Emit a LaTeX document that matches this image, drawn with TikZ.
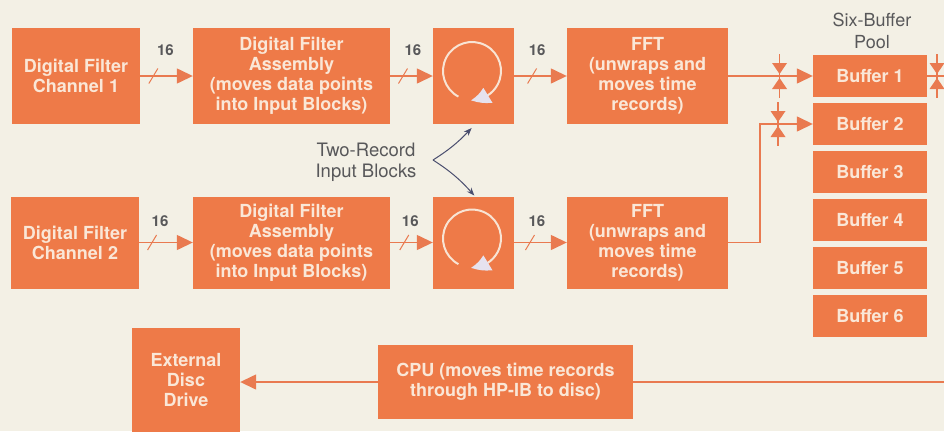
\documentclass[tikz,border=0pt]{standalone}
\usepackage{fontspec}
\setmainfont{TeX Gyre Heros}
\usetikzlibrary{arrows.meta,decorations.markings,bending}
\definecolor{bgc}{HTML}{F3F0E5}
\definecolor{boxor}{HTML}{EE7A48}
\definecolor{boxtxt}{HTML}{FAE7D7}
\definecolor{lineor}{HTML}{E97A50}
\definecolor{graytxt}{HTML}{58585A}
\definecolor{ptrc}{HTML}{4A4E6E}
\definecolor{arcc}{HTML}{F8E4D4}
\definecolor{tipc}{HTML}{E6E2EE}
\begin{document}
\begin{tikzpicture}[x=1pt,y=-1pt,
  box/.style={fill=boxor, text=boxtxt, font=\bfseries\fontsize{18}{20}\selectfont, align=center, inner sep=0pt},
  graylbl/.style={text=graytxt, align=center, inner sep=0pt},
  num/.style={text=graytxt, font=\bfseries\fontsize{15}{15}\selectfont, inner sep=0pt},
  flow/.style={draw=lineor, line width=1.4pt},
  arr/.style={-{Triangle[length=16pt,width=15pt]}},
  ptr/.style={draw=ptrc, line width=1pt, -{Stealth[length=8pt,width=6pt]}},
  arcst/.style={draw=arcc, line width=2pt, -{Triangle[length=18pt,width=17pt,color=tipc,bend]}},
  bus/.style n args={3}{postaction={decorate, decoration={markings, mark=at position #1 with {\draw[-, lineor, line width=1pt] (-4.5pt,-7.5pt) -- (4.5pt,7.5pt); \node[num] at (#2pt,#3pt) {16};}}}},
  switchmk/.pic={\draw[-, lineor,line width=1.1pt] (0,-22)--(0,22);
                 \fill[lineor] (-7.5,-13)--(7.5,-13)--(0,-2)--cycle;
                 \fill[lineor] (-7.5,13)--(7.5,13)--(0,2)--cycle;}
]
\fill[bgc] (0,0) rectangle (944,431);
\useasboundingbox (0,0) rectangle (944,431);

% row 1
\node[box, minimum width=128pt, minimum height=96pt] (ch1) at (76,76) {Digital Filter\\Channel 1};
\node[box, minimum width=197pt, minimum height=96pt] (asm1) at (291.5,76) {Digital Filter\\Assembly\\(moves data points\\into Input Blocks)};
\node[box, minimum width=81pt, minimum height=96pt] (cb1) at (473.5,76) {};
\node[box, minimum width=161pt, minimum height=96pt] (fft1) at (647.5,76) {FFT\\(unwraps and\\moves time\\records)};

% row 2
\node[box, minimum width=128pt, minimum height=92pt] (ch2) at (75,242.5) {Digital Filter\\Channel 2};
\node[box, minimum width=197pt, minimum height=92pt] (asm2) at (291.5,242.5) {Digital Filter\\Assembly\\(moves data points\\into Input Blocks)};
\node[box, minimum width=81pt, minimum height=92pt] (cb2) at (473.5,242.5) {};
\node[box, minimum width=161pt, minimum height=92pt] (fft2) at (647.5,242.5) {FFT\\(unwraps and\\moves time\\records)};

% buffers
\node[graylbl, font=\fontsize{18}{22}\selectfont] (pool) at (872,31) {Six-Buffer\\Pool};
\foreach \i/\yy in {1/76,2/124,3/172,4/220,5/268,6/316}{
  \node[box, minimum width=114pt, minimum height=42pt] (buf\i) at (870,\yy) {Buffer \i};
}

% bottom
\node[box, minimum width=255pt, minimum height=74pt] (cpu) at (505.5,382) {CPU (moves time records\\through HP-IB to disc)};
\node[box, minimum width=108pt, minimum height=104pt] (ext) at (186,380) {External\\Disc\\Drive};

% bus connectors
\draw[flow,arr,bus={0.25}{12}{26}] (ch1.east) -- (asm1.west);
\draw[flow,arr,bus={0.3}{10}{26}] (asm1.east) -- (cb1.west);
\draw[flow,arr,bus={0.34}{5}{26}] (cb1.east) -- (fft1.west);
\draw[flow,arr,bus={0.24}{8}{21}] (ch2.east) -- (asm2.west);
\draw[flow,arr,bus={0.33}{6}{21}] (asm2.east) -- (cb2.west);
\draw[flow,arr,bus={0.3}{7}{21}] (cb2.east) -- (fft2.west);

% to buffers
\draw[flow,arr] (fft1.east) -- coordinate[pos=0.607] (sw1) (buf1.west);
\pic at (sw1) {switchmk};
\coordinate (bend2) at (760,242.5);
\draw[flow,arr] (fft2.east) -- (bend2) |- (buf2.west);
\coordinate (sw2) at (778,124);
\pic at (sw2) {switchmk};
\coordinate (outr) at (944,76);
\draw[flow] (buf1.east) -- (outr);
\coordinate (sw3) at (937,76);
\pic at (sw3) {switchmk};

% CPU path
\coordinate (cpuin) at (944,382);
\draw[flow] (cpuin) -- (cpu.east);
\draw[flow,arr] (cpu.west) -- (cpu.west -| ext.east);

% circulating arrows
\begin{scope}[shift={(cb1.center)}, y=1pt]
  \draw[arcst] (-1.5,5) ++(-118:29) arc[start angle=-118, end angle=-452, radius=29];
\end{scope}
\begin{scope}[shift={(cb2.center)}, y=1pt]
  \draw[arcst] (-1.5,4) ++(-118:29) arc[start angle=-118, end angle=-452, radius=29];
\end{scope}

% two-record pointer
\node[graylbl, font=\fontsize{18.5}{21}\selectfont] (tr) at (366,162.5) {Two-Record\\Input Blocks};
\coordinate (trsplit) at (433,160);
\draw[ptr, shorten >=5pt] (trsplit) to[bend right=8] ([xshift=1.5pt]cb1.south);
\draw[ptr, shorten >=1pt] (trsplit) to[bend left=8] ([xshift=1.5pt]cb2.north);
\end{tikzpicture}
\end{document}
